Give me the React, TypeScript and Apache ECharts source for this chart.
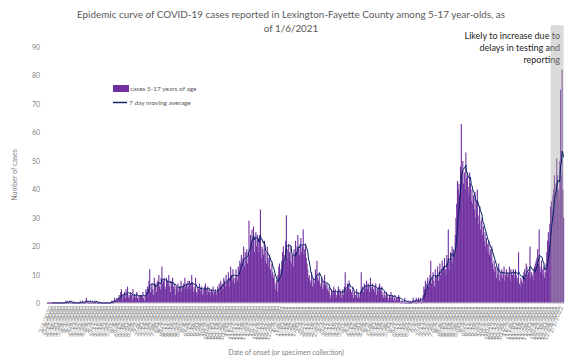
import React, { useEffect, useRef } from "react";
import * as echarts from "echarts";

const TITLE = "Epidemic curve of COVID-19 cases reported in Lexington-Fayette County among 5-17 year-olds, as\nof 1/6/2021";
const NOTE = "Likely to increase due to\ndelays in testing and\nreporting";
const SERIES_BAR = "cases 5-17 years of age";
const SERIES_LINE = "7 day moving average";
const Y_NAME = "Number of cases";
const X_NAME = "Date of onset (or specimen collection)";

// daily cases, by month (first day: 2/29/2020)
const feb20 = [0];
const mar20 = [0,0,0,0,0,0,0,0,0,0, 0,0,0,0,0,0,0,0,0,0, 0,0,0,1,0,1,0,0,1,0,1];
const apr20 = [0,0,0,0,0,0,0,0,0,0, 0,1,0,0,1,0,0,0,1,2, 0,1,0,0,1,0,0,1,0,0];
const may20 = [1,0,1,0,0,0,0,0,0,0, 0,0,0,0,0,0,0,0,0,0, 0,0,1,1,0,1,2,1,1,2,1];
const jun20 = [2,3,2,4,5,3,1, 3,4,2,5,3,6,2, 3,2,4,3,1,5,2, 3,2,3,4,2,1,3, 2,3];
const jul20 = [3,2,4,2,1,3,5, 4,6,5,8,12,4,6, 7,5,3,9,6,7,4, 8,7,10,6,5,9,13, 7,8,9];
const aug20 = [6,5,9,8,7,10,6, 4,8,7,9,6,5,7, 3,6,5,7,4,6,5, 8,4,6,7,5,9,6, 7,5,8];
const sep20 = [6,8,7,5,10,7,4, 6,5,9,4,3,6,5, 7,4,5,6,3,5,4, 6,7,5,3,6,4,5, 3,4];
const oct20 = [5,4,6,3,4,5,3, 4,6,5,7,4,8,6, 7,5,9,8,6,10,7, 8,11,6,9,13,10,8, 12,9,7];
const nov20 = [9,12,10,8,13,11,15, 14,17,12,16,20,13,18, 15,19,14,18,29,17,24, 22,26,21,27,18,23,25, 20,24];
const dec20 = [22,18,24,33,16,20,19, 17,22,15,18,14,20,16, 13,17,12,10,14,11,9, 10,7,5,8,4,10,13, 14,9,12];
const jan21 = [15,18,20,17,14,22,31, 19,16,21,18,15,20,14, 17,13,19,16,22,18,20, 24,19,17,21,23,18,20, 26,17,19];
const feb21 = [21,16,14,12,9,10,8, 7,11,6,9,8,7,12, 10,15,9,8,11,7,6, 9,5,8,6,10,7,6];
const mar21 = [7,5,4,6,3,2,5, 4,3,6,4,5,2,3, 4,6,3,5,4,2,4, 5,3,6,11,4,5,7, 6,8,5];
const apr21 = [5,4,3,6,2,4,3, 3,5,2,4,3,2,4, 11,5,6,4,7,5,6, 8,5,7,6,4,9,5, 6,7];
const may21 = [5,4,6,7,3,5,4, 6,7,5,4,6,3,2, 4,3,2,4,3,2,1, 3,2,4,2,3,1,2, 3,1,2];
const jun21 = [2,1,3,2,1,0,1, 1,0,1,2,0,0,0, 1,0,0,1,0,0,1, 2,1,0,1,2,0,1, 2,1];
const jul21 = [1,2,0,1,3,6,5, 8,7,4,9,6,8,10, 15,7,9,11,8,6,12, 10,9,13,8,11,14,10, 12,15,11];
const aug21 = [13,16,12,10,17,14,26, 12,15,18,16,20,14,19, 17,24,30,35,43,40,42, 38,48,63,45,50,42,46, 40,53,44];
const sep21 = [45,41,38,46,42,36,40, 35,38,33,39,30,36,40, 31,28,34,26,29,30,24, 27,22,25,20,23,21,18, 22,17];
const oct21 = [19,16,20,14,12,15,11, 13,9,12,10,14,8,11, 10,12,9,11,13,8,10, 12,9,11,10,13,8,12, 11,10,12];
const nov21 = [11,9,12,10,8,9,18, 7,6,9,8,7,10,11, 12,9,14,13,10,11,12, 20,9,11,10,8,12,13, 14,15];
const dec21 = [16,19,14,26,13,11,15, 12,10,13,9,11,14,18, 22,25,20,28,34,36,33, 38,40,45,38,42,51,45, 40,36,50];
const jan22 = [75,45,82,40,30];

const cases = [
  ...feb20, ...mar20, ...apr20, ...may20, ...jun20, ...jul20, ...aug20, ...sep20,
  ...oct20, ...nov20, ...dec20, ...jan21, ...feb21, ...mar21, ...apr21, ...may21,
  ...jun21, ...jul21, ...aug21, ...sep21, ...oct21, ...nov21, ...dec21, ...jan22,
];

const START = [2020, 1, 29];
const SHADE_FROM = "12/19/2021";

const dates: string[] = cases.map((_, i) => {
  const d = new Date(START[0], START[1], START[2] + i);
  return `${d.getMonth() + 1}/${d.getDate()}/${d.getFullYear()}`;
});

const movingAvg = cases.map((_, i) => {
  if (i < 6) return null;
  let s = 0;
  for (let k = i - 6; k <= i; k++) s += cases[k];
  return +(s / 7).toFixed(2);
});

const FONT = "Lato, 'Noto Sans', sans-serif";
const LEGEND_TEXT = { fontFamily: FONT, fontSize: 6.5, color: "#595959", padding: [0, 0, 0, -3] };

export default function App() {
  const ref = useRef<HTMLDivElement>(null);
  useEffect(() => {
    if (!ref.current) return;
    const chart = echarts.init(ref.current, null, { renderer: "svg" });
    chart.setOption({
      animation: false,
      backgroundColor: "#ffffff",
      textStyle: { fontFamily: FONT },
      title: {
        text: TITLE,
        left: 286,
        textAlign: "center",
        top: 2,
        textStyle: { fontFamily: FONT, fontSize: 9.9, fontWeight: "normal", color: "#595959", lineHeight: 14 },
      },
      legend: [
        {
          left: 108,
          top: 80,
          itemWidth: 14,
          itemHeight: 5,
          textStyle: LEGEND_TEXT,
          data: [{ name: SERIES_BAR, icon: "rect" }],
        },
        {
          left: 108,
          top: 94,
          itemWidth: 14,
          itemHeight: 1.4,
          textStyle: LEGEND_TEXT,
          data: [{ name: SERIES_LINE, icon: "rect" }],
        },
      ],
      grid: { left: 47, right: 8, top: 18, bottom: 58 },
      xAxis: {
        type: "category",
        data: dates,
        boundaryGap: true,
        axisLine: { lineStyle: { color: "#d9d9d9", width: 1 } },
        axisTick: { show: false },
        axisLabel: {
          interval: 3,
          rotate: 68,
          fontSize: 6.6,
          color: "#8c8c8c",
          margin: 3,
          fontFamily: FONT,
        },
      },
      yAxis: {
        type: "value",
        min: 0,
        max: 100,
        interval: 10,
        axisLine: { show: false },
        axisTick: { show: false },
        splitLine: { show: false },
        axisLabel: {
          fontSize: 7,
          color: "#7f7f7f",
          margin: 7,
          fontFamily: FONT,
          formatter: (v: number) => (v > 90 ? "" : String(v)),
        },
      },
      series: [
        {
          name: SERIES_BAR,
          type: "bar",
          data: cases,
          barCategoryGap: "0%",
          itemStyle: { color: "#7030A0", borderColor: "#7030A0", borderWidth: 1.1 },
          z: 2,
        },
        {
          name: SERIES_LINE,
          type: "line",
          data: movingAvg,
          symbol: "none",
          z: 4,
          lineStyle: { color: "#002060", width: 1 },
          itemStyle: { color: "#002060" },
          markArea: {
            silent: true,
            z: 3,
            itemStyle: { color: "rgba(166,166,166,0.42)" },
            data: [[{ xAxis: SHADE_FROM, yAxis: 0 }, { xAxis: dates[dates.length - 1], yAxis: 97.5 }]],
          },
        },
      ],
      graphic: [
        {
          type: "text",
          x: 560,
          y: 29,
          style: {
            text: NOTE,
            align: "right",
            fontFamily: FONT,
            fontSize: 9,
            lineHeight: 12,
            fill: "#262626",
          },
        },
        {
          type: "text",
          x: 14,
          y: 175,
          rotation: Math.PI / 2,
          style: {
            text: Y_NAME,
            align: "center",
            verticalAlign: "middle",
            fontFamily: FONT,
            fontSize: 7,
            fill: "#7f7f7f",
          },
        },
        {
          type: "text",
          x: 286,
          y: 352,
          z: 10,
          style: {
            text: X_NAME,
            align: "center",
            verticalAlign: "middle",
            fontFamily: FONT,
            fontSize: 7,
            fill: "#7f7f7f",
          },
        },
      ],
    });
    return () => chart.dispose();
  }, []);
  return (
    <div
      ref={ref}
      style={{ position: "absolute", left: 0, top: 0, width: 572, height: 361 }}
    />
  );
}
